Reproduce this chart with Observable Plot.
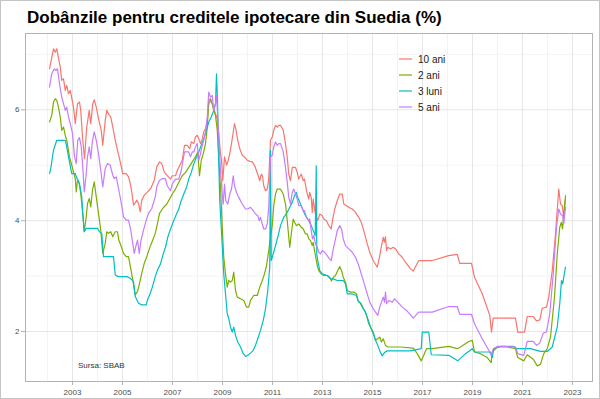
<!DOCTYPE html>
<html>
<head>
<meta charset="utf-8">
<script src="https://cdn.jsdelivr.net/npm/d3@7"></script>
<script src="https://cdn.jsdelivr.net/npm/@observablehq/plot@0.6"></script>
<style>
  html, body { margin: 0; padding: 0; background: #fff; }
  #wrap { position: relative; width: 600px; height: 399px; overflow: hidden; background: #fff;
          font-family: "Liberation Sans", Arial, sans-serif; }
  #border { position: absolute; left: 0; top: 0; width: 600px; height: 399px; box-sizing: border-box;
            border: 1px solid #c4c4c4; pointer-events: none; }
  #title { position: absolute; left: 27px; top: 8px; font-size: 17px; font-weight: bold; color: #000;
           white-space: nowrap; line-height: 20px; }
  #chart { position: absolute; left: 0; top: 28px; }
  #legend { position: absolute; left: 399px; top: 51px; font-size: 10px; color: #1a1a1a; }
  .row { height: 16px; display: flex; align-items: center; }
  .row svg { margin-right: 6px; }
  #caption { position: absolute; left: 78px; top: 361px; font-size: 8px; color: #333; white-space: nowrap; }
</style>
</head>
<body>
<div id="wrap">
  <div id="title">Dobânzile pentru creditele ipotecare din Suedia (%)</div>
  <div id="chart"></div>
  <div id="legend"></div>
  <div id="caption"></div>
  <div id="border"></div>
</div>
<script>
const titleText = "Dobânzile pentru creditele ipotecare din Suedia (%)";
const captionText = "Sursa: SBAB";
const seriesNames = ["10 ani", "2 ani", "3 luni", "5 ani"];
const seriesColors = ["#F8766D", "#7CAE00", "#00BFC4", "#C77CFF"];
const xTicks = [2003, 2005, 2007, 2009, 2011, 2013, 2015, 2017, 2019, 2021, 2023];
const xMinor = [2002, 2004, 2006, 2008, 2010, 2012, 2014, 2016, 2018, 2020, 2022];
const yTicks = [2, 4, 6];
const yMinor = [3, 5, 7];

// [year, rate %]
const ani10 = [[2002.08,6.74],[2002.24,7.10],[2002.31,7.04],[2002.37,7.10],[2002.51,6.77],[2002.57,6.53],[2002.64,6.56],[2002.71,6.35],[2002.77,6.44],[2002.84,6.29],[2002.91,6.35],[2003.04,6.05],[2003.11,5.75],[2003.20,6.11],[2003.28,6.14],[2003.33,5.99],[2003.40,5.51],[2003.48,5.12],[2003.57,5.69],[2003.67,5.99],[2003.73,5.75],[2003.81,6.11],[2003.87,6.18],[2003.95,6.05],[2004.04,5.84],[2004.15,5.63],[2004.21,5.36],[2004.31,5.81],[2004.37,5.99],[2004.47,5.90],[2004.53,5.87],[2004.61,5.69],[2004.71,5.45],[2004.80,5.27],[2004.91,5.06],[2005.01,4.85],[2005.15,4.85],[2005.24,4.79],[2005.31,4.67],[2005.37,4.52],[2005.44,4.28],[2005.51,4.32],[2005.57,4.37],[2005.64,4.31],[2005.71,4.16],[2005.77,4.37],[2005.87,4.46],[2006.00,4.52],[2006.13,4.58],[2006.27,4.73],[2006.37,4.97],[2006.48,5.06],[2006.57,5.03],[2006.67,4.88],[2006.77,4.82],[2006.92,4.75],[2006.99,4.81],[2007.12,4.81],[2007.19,4.90],[2007.25,4.96],[2007.39,5.09],[2007.48,5.36],[2007.59,5.36],[2007.69,5.30],[2007.75,5.42],[2007.85,5.39],[2007.92,5.51],[2007.99,5.54],[2008.05,5.48],[2008.12,5.39],[2008.19,5.48],[2008.25,5.60],[2008.32,5.66],[2008.39,5.78],[2008.45,6.11],[2008.52,6.17],[2008.59,6.11],[2008.65,6.02],[2008.72,5.93],[2008.79,5.84],[2008.85,5.57],[2008.92,5.21],[2008.96,5.09],[2009.01,4.72],[2009.08,5.15],[2009.16,5.00],[2009.23,5.09],[2009.29,5.21],[2009.36,5.39],[2009.43,5.60],[2009.48,5.75],[2009.53,5.66],[2009.61,5.45],[2009.69,5.30],[2009.79,5.18],[2009.88,5.15],[2009.99,5.09],[2010.09,5.07],[2010.19,5.06],[2010.28,5.00],[2010.36,4.90],[2010.45,4.78],[2010.49,4.72],[2010.55,4.84],[2010.60,4.81],[2010.65,4.63],[2010.72,4.54],[2010.79,4.57],[2010.85,4.75],[2010.92,5.45],[2010.99,5.51],[2011.05,5.63],[2011.12,5.72],[2011.19,5.69],[2011.25,5.72],[2011.32,5.72],[2011.43,5.63],[2011.52,5.39],[2011.59,5.14],[2011.65,4.84],[2011.72,4.72],[2011.79,4.96],[2011.92,4.96],[2011.99,4.87],[2012.05,4.75],[2012.15,4.84],[2012.23,4.72],[2012.28,4.75],[2012.36,4.54],[2012.45,4.39],[2012.49,4.51],[2012.55,4.42],[2012.59,4.15],[2012.63,4.39],[2012.69,4.18],[2012.76,4.06],[2012.81,4.00],[2012.89,4.12],[2012.99,4.09],[2013.05,4.03],[2013.16,4.00],[2013.25,3.91],[2013.35,3.85],[2013.41,4.03],[2013.49,4.21],[2013.59,4.36],[2013.69,4.48],[2013.79,4.48],[2013.85,4.30],[2013.96,4.27],[2014.05,4.24],[2014.19,4.21],[2014.32,4.15],[2014.45,4.06],[2014.55,3.97],[2014.65,3.82],[2014.79,3.58],[2014.89,3.43],[2015.03,3.28],[2015.19,3.16],[2015.28,3.34],[2015.36,3.55],[2015.43,3.70],[2015.48,3.61],[2015.52,3.71],[2015.56,3.46],[2015.61,3.52],[2015.72,3.49],[2015.83,3.52],[2015.92,3.49],[2016.05,3.40],[2016.19,3.34],[2016.32,3.25],[2016.52,3.13],[2016.63,3.09],[2016.85,3.28],[2017.39,3.28],[2018.05,3.37],[2018.39,3.39],[2018.49,3.23],[2018.96,3.23],[2019.08,2.98],[2019.39,2.68],[2019.69,2.29],[2019.76,1.99],[2019.83,2.24],[2020.72,2.24],[2020.81,1.99],[2021.08,1.99],[2021.19,2.27],[2021.43,2.27],[2021.56,2.19],[2021.69,2.21],[2021.79,2.42],[2021.96,2.44],[2022.05,2.62],[2022.19,3.10],[2022.32,3.76],[2022.45,4.57],[2022.52,4.30],[2022.59,4.27],[2022.65,4.06],[2022.72,4.39]];

const ani2 = [[2002.08,5.78],[2002.17,5.90],[2002.24,6.14],[2002.31,6.20],[2002.37,6.17],[2002.44,6.05],[2002.51,5.87],[2002.57,5.63],[2002.64,5.69],[2002.71,5.54],[2002.77,5.45],[2002.88,5.15],[2002.97,5.00],[2003.04,4.88],[2003.11,4.76],[2003.15,4.52],[2003.20,4.73],[2003.27,4.67],[2003.33,4.49],[2003.41,4.13],[2003.47,3.80],[2003.55,4.07],[2003.60,4.31],[2003.67,4.40],[2003.73,4.25],[2003.80,4.55],[2003.87,4.70],[2003.95,4.43],[2004.04,4.13],[2004.13,3.83],[2004.21,3.41],[2004.31,3.59],[2004.37,3.80],[2004.44,3.77],[2004.53,3.80],[2004.61,3.71],[2004.71,3.80],[2004.80,3.80],[2004.85,3.65],[2004.93,3.56],[2005.04,3.41],[2005.15,3.35],[2005.24,3.35],[2005.33,3.14],[2005.41,2.93],[2005.51,2.66],[2005.60,2.72],[2005.68,2.87],[2005.77,3.05],[2005.87,3.23],[2005.97,3.35],[2006.08,3.50],[2006.21,3.65],[2006.31,3.77],[2006.40,3.95],[2006.48,4.13],[2006.61,4.22],[2006.77,4.30],[2006.92,4.42],[2006.99,4.48],[2007.12,4.57],[2007.25,4.69],[2007.39,4.81],[2007.52,4.87],[2007.65,4.96],[2007.79,5.06],[2007.92,5.15],[2008.01,5.24],[2008.08,4.81],[2008.15,5.09],[2008.23,5.21],[2008.32,5.39],[2008.39,5.69],[2008.45,6.17],[2008.52,6.20],[2008.59,6.11],[2008.65,5.99],[2008.72,5.90],[2008.79,5.63],[2008.85,5.15],[2008.92,4.60],[2008.99,3.88],[2009.05,3.34],[2009.12,3.04],[2009.19,2.80],[2009.25,2.92],[2009.32,2.89],[2009.39,2.92],[2009.45,3.07],[2009.52,2.74],[2009.59,2.62],[2009.72,2.59],[2009.85,2.56],[2009.96,2.44],[2010.05,2.44],[2010.12,2.56],[2010.25,2.65],[2010.39,2.65],[2010.49,2.80],[2010.59,2.92],[2010.68,3.04],[2010.76,3.19],[2010.85,3.46],[2010.92,3.70],[2010.99,3.91],[2011.05,4.27],[2011.12,4.48],[2011.19,4.57],[2011.25,4.57],[2011.32,4.57],[2011.43,4.48],[2011.52,4.30],[2011.59,4.00],[2011.65,3.70],[2011.69,3.52],[2011.75,3.76],[2011.83,4.03],[2011.88,3.97],[2011.96,3.91],[2012.05,3.94],[2012.15,3.88],[2012.23,3.85],[2012.32,3.76],[2012.39,3.76],[2012.45,3.67],[2012.52,3.64],[2012.59,3.55],[2012.63,3.61],[2012.68,3.46],[2012.73,3.34],[2012.79,3.19],[2012.85,3.10],[2012.95,3.04],[2013.05,3.01],[2013.19,3.01],[2013.29,2.98],[2013.36,2.91],[2013.43,2.98],[2013.52,3.01],[2013.61,3.10],[2013.69,3.17],[2013.76,3.10],[2013.83,2.98],[2013.92,2.89],[2013.99,2.74],[2014.12,2.71],[2014.25,2.71],[2014.36,2.68],[2014.41,2.56],[2014.49,2.53],[2014.59,2.44],[2014.68,2.38],[2014.76,2.29],[2014.85,2.14],[2014.95,2.05],[2015.03,1.99],[2015.12,1.84],[2015.21,1.87],[2015.29,1.90],[2015.36,1.81],[2015.43,1.87],[2015.52,1.75],[2015.61,1.72],[2015.79,1.72],[2016.12,1.72],[2016.63,1.70],[2016.79,1.60],[2016.95,1.47],[2017.05,1.57],[2017.16,1.69],[2017.39,1.69],[2018.05,1.73],[2018.39,1.69],[2018.52,1.72],[2018.85,1.82],[2018.99,1.84],[2019.08,1.63],[2019.32,1.60],[2019.59,1.53],[2019.75,1.44],[2019.79,1.63],[2019.99,1.72],[2020.39,1.72],[2020.72,1.69],[2020.81,1.53],[2021.05,1.47],[2021.19,1.58],[2021.43,1.50],[2021.59,1.38],[2021.72,1.41],[2021.85,1.60],[2021.99,1.69],[2022.12,1.90],[2022.28,2.62],[2022.39,3.40],[2022.49,3.88],[2022.55,3.97],[2022.60,3.85],[2022.65,4.12],[2022.72,4.45]];

const luni3 = [[2002.08,4.85],[2002.13,4.94],[2002.24,5.27],[2002.37,5.45],[2002.71,5.45],[2002.77,5.33],[2002.84,5.15],[2002.97,4.85],[2003.11,4.85],[2003.15,4.79],[2003.28,4.67],[2003.37,4.43],[2003.41,4.13],[2003.47,3.80],[2003.55,3.86],[2004.00,3.86],[2004.08,3.80],[2004.17,3.77],[2004.24,3.35],[2004.64,3.35],[2004.71,3.02],[2004.84,2.99],[2005.17,2.99],[2005.31,2.96],[2005.44,2.90],[2005.51,2.63],[2005.64,2.51],[2005.77,2.48],[2005.95,2.48],[2006.00,2.57],[2006.11,2.69],[2006.20,2.81],[2006.31,2.99],[2006.40,3.11],[2006.52,3.22],[2006.63,3.40],[2006.72,3.52],[2006.81,3.70],[2006.92,3.85],[2007.05,4.00],[2007.16,4.12],[2007.25,4.21],[2007.35,4.36],[2007.45,4.48],[2007.56,4.60],[2007.65,4.75],[2007.75,4.87],[2007.85,5.02],[2007.96,5.15],[2008.05,5.24],[2008.15,5.36],[2008.25,5.48],[2008.36,5.63],[2008.45,5.78],[2008.55,5.87],[2008.65,5.99],[2008.72,6.11],[2008.76,6.65],[2008.80,6.17],[2008.84,5.21],[2008.89,4.36],[2008.95,3.88],[2009.00,3.46],[2009.05,3.04],[2009.12,2.68],[2009.19,2.32],[2009.25,2.23],[2009.32,2.08],[2009.39,1.99],[2009.45,2.08],[2009.52,1.93],[2009.61,1.81],[2009.72,1.72],[2009.83,1.60],[2009.92,1.55],[2010.01,1.57],[2010.12,1.61],[2010.23,1.66],[2010.32,1.75],[2010.41,1.87],[2010.52,2.02],[2010.63,2.20],[2010.72,2.41],[2010.81,2.74],[2010.89,3.16],[2010.92,5.27],[2010.95,3.28],[2011.03,3.40],[2011.12,3.55],[2011.21,3.70],[2011.32,3.91],[2011.45,4.06],[2011.59,4.15],[2011.69,4.24],[2011.79,4.33],[2011.88,4.45],[2011.95,4.51],[2012.01,4.42],[2012.12,4.30],[2012.23,4.18],[2012.32,4.09],[2012.45,4.00],[2012.55,3.91],[2012.63,3.82],[2012.71,3.73],[2012.75,4.99],[2012.77,3.40],[2012.81,3.28],[2012.89,3.10],[2012.99,3.04],[2013.19,3.01],[2013.32,2.95],[2013.43,2.95],[2013.59,2.92],[2013.83,2.92],[2013.92,2.86],[2013.99,2.68],[2014.15,2.68],[2014.36,2.65],[2014.45,2.53],[2014.55,2.50],[2014.63,2.41],[2014.72,2.35],[2014.81,2.23],[2014.92,2.08],[2015.03,1.96],[2015.12,1.84],[2015.21,1.75],[2015.29,1.65],[2015.39,1.56],[2015.48,1.62],[2015.59,1.65],[2016.52,1.65],[2016.95,1.69],[2016.99,1.99],[2017.25,1.99],[2017.35,1.58],[2018.05,1.57],[2018.41,1.47],[2018.72,1.60],[2018.99,1.69],[2019.08,1.63],[2019.72,1.63],[2019.79,1.53],[2019.85,1.69],[2020.12,1.73],[2020.65,1.73],[2020.79,1.69],[2021.32,1.69],[2021.72,1.64],[2021.99,1.64],[2022.19,1.72],[2022.39,2.08],[2022.49,2.50],[2022.56,2.92],[2022.61,2.86],[2022.65,2.98],[2022.72,3.16]];

const ani5 = [[2002.08,6.41],[2002.17,6.65],[2002.27,6.74],[2002.33,6.71],[2002.40,6.74],[2002.48,6.47],[2002.57,6.23],[2002.64,6.11],[2002.71,5.99],[2002.77,6.05],[2002.84,5.87],[2002.91,5.75],[2003.00,5.57],[2003.08,5.15],[2003.15,5.03],[2003.21,5.45],[2003.28,5.50],[2003.35,5.33],[2003.41,4.97],[2003.47,4.52],[2003.55,4.85],[2003.60,5.15],[2003.67,5.33],[2003.73,5.12],[2003.80,5.45],[2003.87,5.60],[2003.95,5.45],[2004.04,5.21],[2004.13,4.91],[2004.21,4.61],[2004.31,4.94],[2004.40,5.03],[2004.51,5.00],[2004.61,4.82],[2004.67,4.76],[2004.75,4.79],[2004.84,4.58],[2004.93,4.37],[2005.04,4.07],[2005.15,4.01],[2005.24,4.01],[2005.33,3.83],[2005.41,3.59],[2005.47,3.41],[2005.53,3.53],[2005.60,3.65],[2005.67,3.41],[2005.73,3.62],[2005.84,3.83],[2005.95,4.01],[2006.04,4.13],[2006.17,4.22],[2006.31,4.43],[2006.37,4.61],[2006.48,4.73],[2006.61,4.76],[2006.71,4.76],[2006.79,4.63],[2006.92,4.54],[2006.99,4.66],[2007.12,4.75],[2007.25,4.75],[2007.35,4.90],[2007.48,5.24],[2007.65,5.24],[2007.72,5.15],[2007.79,5.24],[2007.85,5.24],[2007.92,5.33],[2007.99,5.39],[2008.05,5.09],[2008.12,5.21],[2008.19,5.36],[2008.25,5.45],[2008.32,5.60],[2008.39,5.87],[2008.45,6.32],[2008.52,6.23],[2008.59,6.26],[2008.65,5.99],[2008.72,6.11],[2008.76,6.26],[2008.81,5.87],[2008.87,5.33],[2008.92,4.90],[2008.99,4.48],[2009.03,4.30],[2009.08,4.66],[2009.13,4.36],[2009.21,4.30],[2009.29,4.48],[2009.36,4.57],[2009.43,4.81],[2009.48,4.63],[2009.56,4.51],[2009.65,4.42],[2009.79,4.30],[2009.92,4.21],[2010.01,4.21],[2010.12,4.24],[2010.23,4.18],[2010.32,4.12],[2010.41,4.09],[2010.47,4.00],[2010.52,4.06],[2010.59,3.94],[2010.65,3.85],[2010.72,3.85],[2010.79,3.94],[2010.85,4.24],[2010.92,5.15],[2010.99,5.18],[2011.05,5.33],[2011.12,5.42],[2011.19,5.36],[2011.25,5.39],[2011.32,5.39],[2011.43,5.24],[2011.52,4.96],[2011.59,4.69],[2011.65,4.42],[2011.72,4.30],[2011.79,4.51],[2011.85,4.57],[2011.92,4.48],[2011.99,4.39],[2012.05,4.27],[2012.15,4.27],[2012.23,4.18],[2012.28,4.18],[2012.36,4.06],[2012.45,4.00],[2012.49,4.03],[2012.55,3.82],[2012.60,3.67],[2012.65,3.73],[2012.72,3.58],[2012.79,3.52],[2012.85,3.43],[2012.92,3.40],[2012.99,3.46],[2013.08,3.43],[2013.19,3.37],[2013.28,3.31],[2013.35,3.28],[2013.43,3.49],[2013.49,3.61],[2013.59,3.82],[2013.69,3.91],[2013.76,3.85],[2013.83,3.67],[2013.92,3.55],[2014.05,3.49],[2014.19,3.43],[2014.32,3.34],[2014.45,3.19],[2014.55,3.04],[2014.65,2.89],[2014.79,2.68],[2014.89,2.53],[2015.03,2.41],[2015.21,2.29],[2015.29,2.44],[2015.36,2.53],[2015.43,2.62],[2015.48,2.53],[2015.52,2.71],[2015.56,2.50],[2015.65,2.56],[2015.79,2.53],[2015.88,2.59],[2016.01,2.53],[2016.19,2.44],[2016.36,2.38],[2016.52,2.30],[2016.63,2.24],[2016.85,2.35],[2017.39,2.35],[2018.05,2.45],[2018.39,2.45],[2018.49,2.31],[2018.96,2.31],[2019.08,2.14],[2019.39,1.87],[2019.65,1.66],[2019.75,1.57],[2019.83,1.69],[2019.99,1.73],[2020.25,1.73],[2020.72,1.72],[2020.81,1.60],[2021.05,1.57],[2021.19,1.82],[2021.43,1.82],[2021.56,1.75],[2021.69,1.79],[2021.83,1.97],[2021.96,1.99],[2022.09,2.32],[2022.23,3.04],[2022.36,3.88],[2022.45,4.21],[2022.52,4.12],[2022.61,4.09],[2022.65,3.94],[2022.72,4.24]];

const seriesData = [ani10, ani2, luni3, ani5];
const rows = seriesData.flatMap((arr, i) => arr.map(([year, value]) => ({series: seriesNames[i], year, value})));

const chart = Plot.plot({
  width: 600,
  height: 371,
  marginLeft: 25,
  marginRight: 8,
  marginTop: 5,
  marginBottom: 18,
  style: {fontFamily: "'Liberation Sans', Arial, sans-serif", fontSize: "8px", background: "transparent", overflow: "visible"},
  x: {domain: [2001.12, 2023.8]},
  y: {domain: [1.0975, 7.377]},
  color: {domain: seriesNames, range: seriesColors},
  marks: [
    Plot.ruleX(xMinor, {stroke: "#ebebeb", strokeWidth: 0.6}),
    Plot.ruleY(yMinor, {stroke: "#ebebeb", strokeWidth: 0.6}),
    Plot.ruleX(xTicks, {stroke: "#e3e3e3", strokeWidth: 0.9}),
    Plot.ruleY(yTicks, {stroke: "#e3e3e3", strokeWidth: 0.9}),
    Plot.line(rows, {x: "year", y: "value", z: "series", stroke: "series", strokeWidth: 1.2, strokeLinejoin: "round"}),
    Plot.frame({stroke: "#b3b3b3", strokeWidth: 1}),
    Plot.axisX({ticks: xTicks, tickFormat: d => String(d), tickSize: 4, tickPadding: 4, stroke: "#b3b3b3", fill: "#4d4d4d", label: null}),
    Plot.axisY({ticks: yTicks, tickFormat: d => String(d), tickSize: 4, tickPadding: 2, stroke: "#b3b3b3", fill: "#4d4d4d", label: null})
  ]
});
document.getElementById("chart").appendChild(chart);
document.getElementById("title").textContent = titleText;
document.getElementById("caption").textContent = captionText;

const legend = document.getElementById("legend");
seriesNames.forEach((name, i) => {
  const row = document.createElement("div");
  row.className = "row";
  row.innerHTML = `<svg width="13" height="4"><line x1="0" x2="13" y1="2" y2="2" stroke="${seriesColors[i]}" stroke-width="1.2"/></svg><span>${name}</span>`;
  legend.appendChild(row);
});
</script>
</body>
</html>
